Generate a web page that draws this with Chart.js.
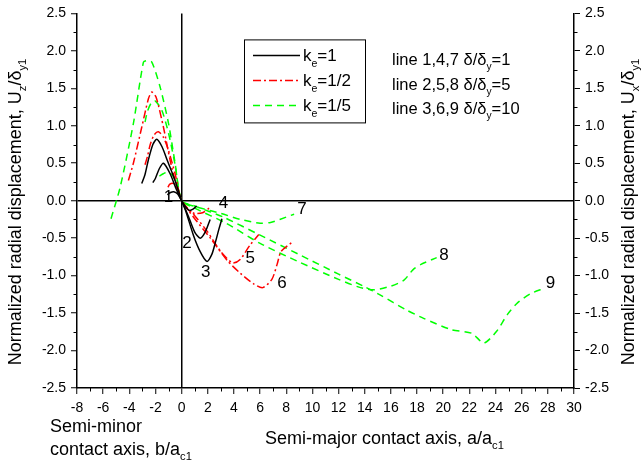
<!DOCTYPE html>
<html><head><meta charset="utf-8">
<script src="https://cdn.jsdelivr.net/npm/chart.js@4/dist/chart.umd.min.js"></script>
<style>html,body{margin:0;padding:0;background:#fff;}canvas{display:block}</style>
</head><body>
<canvas id="c" width="643" height="465"></canvas>
<script>
// ---- data (x = b/ac1 for negative side, a/ac1 for positive side) ----
const line1X = [-1.1,-0.85,-0.6,-0.3,0,0.3,0.6,0.9,1.15];
const line1Y = [0.08,0.11,0.12,0.09,0,-0.08,-0.13,-0.11,-0.07];
const line2X = [-2.2,-2.0,-1.7,-1.39,-0.88,-0.4,0,0.5,1.0,1.42,1.8,2.18];
const line2Y = [0.24,0.3,0.43,0.5,0.36,0.15,0,-0.2,-0.42,-0.5,-0.42,-0.25];
const line3X = [-3.05,-2.8,-2.55,-2.2,-1.9,-1.5,-1.1,-0.5,0,0.3,0.9,1.42,1.93,2.3,2.56,2.85,3.08];
const line3Y = [0.23,0.35,0.54,0.75,0.82,0.72,0.54,0.27,0,-0.13,-0.46,-0.68,-0.81,-0.72,-0.57,-0.38,-0.24];
const line4X = [-1.05,-0.9,-0.65,-0.3,0,0.5,1.0,1.6,2.1];
const line4Y = [0.18,0.22,0.23,0.15,0,-0.12,-0.17,-0.16,-0.1];
const line5X = [-2.8,-2.6,-2.4,-2.1,-1.78,-1.4,-1.0,-0.5,0,1,2,3,3.9,4.5,5.2,5.9];
const line5Y = [0.48,0.6,0.75,0.88,0.92,0.85,0.67,0.36,0,-0.2,-0.42,-0.68,-0.83,-0.78,-0.6,-0.45];
const line6X = [-4.07,-3.69,-3.05,-2.54,-2.28,-1.95,-1.39,-0.88,-0.37,0,1,2.2,3.5,4.5,5.5,6.2,6.9,7.3,7.6,8.4];
const line6Y = [0.27,0.5,0.98,1.36,1.45,1.38,0.98,0.54,0.18,0,-0.24,-0.5,-0.8,-0.97,-1.11,-1.16,-1.05,-0.85,-0.68,-0.56];
const line7X = [-1.7,-1.4,-1.1,-0.7,-0.3,0,0.5,1.5,3,4.5,6,6.8,7.5,8.6];
const line7Y = [0.33,0.36,0.38,0.34,0.18,0,-0.05,-0.1,-0.17,-0.25,-0.3,-0.29,-0.25,-0.18];
const line8X = [-2.8,-2.6,-2.3,-2.0,-1.5,-1.0,-0.5,0,1,3.4,6,9,12,13.5,14.7,16,17,17.7,18.3,19.5];
const line8Y = [1.05,1.2,1.31,1.33,1.2,0.9,0.48,0,-0.1,-0.3,-0.57,-0.82,-1.05,-1.15,-1.19,-1.14,-1.06,-0.92,-0.85,-0.76];
const line9X = [-5.4,-4.7,-3.69,-2.92,-2.67,-2.28,-1.65,-1.0,-0.5,0,1,3.2,6,9,12,14,15.2,17.2,18.5,20.6,22.2,23.1,24.1,24.9,25.7,26.7,27.7];
const line9Y = [-0.24,0.18,1.03,1.85,1.87,1.85,1.52,1.03,0.5,0,-0.07,-0.22,-0.46,-0.72,-0.98,-1.15,-1.26,-1.46,-1.57,-1.72,-1.77,-1.9,-1.74,-1.52,-1.36,-1.24,-1.17];

const lineNames = ['1','2','3','4','5','6','7','8','9'];
const labelX = [-1.0,0.4,1.85,3.2,5.25,7.67,9.2,20.05,28.2];
const labelY = [0.04,-0.57,-0.95,-0.04,-0.77,-1.1,-0.11,-0.73,-1.1];

const xMin = -8, xMax = 30, xStep = 2;
const yMin = -2.5, yMax = 2.5, yStep = 0.5;

const FONT = '"Liberation Sans", Arial, sans-serif';
const BLACK = '#000000', RED = '#ff0000', GREEN = '#00ff00';
const styles = {
  1:{c:BLACK,d:[]}, 2:{c:RED,d:[8,3,2,3]}, 3:{c:GREEN,d:[7,5]}
};
const ke = [1,1,1,2,2,2,3,3,3];
const allX = [line1X,line2X,line3X,line4X,line5X,line6X,line7X,line8X,line9X];
const allY = [line1Y,line2Y,line3Y,line4Y,line5Y,line6Y,line7Y,line8Y,line9Y];

const datasets = allX.map((xs,i)=>({
  label: 'line '+lineNames[i],
  data: xs.map((x,j)=>({x:x,y:allY[i][j]})),
  showLine: true,
  borderColor: styles[ke[i]].c,
  borderDash: styles[ke[i]].d,
  borderWidth: 1.5,
  pointRadius: 0,
  tension: 0.25,
  fill: false
}));

function drawRich(ctx, parts, x, y, size, align){
  const sub = size*0.62;
  let w = 0;
  parts.forEach(p=>{ ctx.font = (p[1]?sub:size)+'px '+FONT; w += ctx.measureText(p[0]).width; });
  let cx = align==='center' ? x - w/2 : x;
  ctx.textAlign = 'left'; ctx.textBaseline = 'alphabetic';
  parts.forEach(p=>{
    ctx.font = (p[1]?sub:size)+'px '+FONT;
    ctx.fillText(p[0], cx, y + (p[1]? size*0.3 : 0));
    cx += ctx.measureText(p[0]).width;
  });
}

const decor = {
  id:'decor',
  afterDraw(chart){
    const ctx = chart.ctx, a = chart.chartArea;
    const sx = chart.scales.x, sy = chart.scales.y;
    ctx.save();
    ctx.strokeStyle = '#000'; ctx.lineWidth = 1;
    ctx.beginPath();
    for(let v=xMin+1; v<xMax; v+=2){ const px=Math.round(sx.getPixelForValue(v))+0.5; ctx.moveTo(px,a.bottom); ctx.lineTo(px,a.bottom+3.5); }
    for(let v=yMin+0.25; v<yMax; v+=0.5){ const py=Math.round(sy.getPixelForValue(v))+0.5; ctx.moveTo(a.left,py); ctx.lineTo(a.left-3.5,py); ctx.moveTo(a.right,py); ctx.lineTo(a.right+3.5,py); }
    ctx.stroke();
    ctx.fillStyle = '#000';
    ctx.font = '17px '+FONT; ctx.textAlign='center'; ctx.textBaseline='middle';
    lineNames.forEach((n,i)=>{ ctx.fillText(n, sx.getPixelForValue(labelX[i]), sy.getPixelForValue(labelY[i])); });
    // legend box
    const bx = a.left+167, by = a.top+26, bw = 121, bh = 83;
    ctx.lineWidth = 1; ctx.strokeStyle='#000';
    ctx.strokeRect(bx+0.5, by+0.5, bw, bh);
    const rows = [[1,'1'],[2,'1/2'],[3,'1/5']];
    rows.forEach((r,i)=>{
      const ly = by + 16 + i*25;
      ctx.beginPath(); ctx.strokeStyle = styles[r[0]].c; ctx.lineWidth=1.5; ctx.setLineDash(styles[r[0]].d);
      ctx.moveTo(bx+9, ly); ctx.lineTo(bx+56, ly); ctx.stroke(); ctx.setLineDash([]);
      ctx.fillStyle='#000';
      drawRich(ctx, [['k'],['e',1],['='+r[1]]], bx+59, ly+6, 17, 'left');
    });
    const notes = [['1,4,7','1'],['2,5,8','5'],['3,6,9','10']];
    notes.forEach((n,i)=>{
      drawRich(ctx, [['line '+n[0]+' \u03b4/\u03b4'],['y',1],['='+n[1]]], a.left+315, by+ 26 + i*24.5, 16.5, 'left');
    });
    // axis titles
    ctx.save(); ctx.translate(21, 212); ctx.rotate(-Math.PI/2);
    drawRich(ctx, [['Normalized radial displacement, U'],['z',1],['/\u03b4'],['y1',1]], 0, 0, 18, 'center');
    ctx.restore();
    ctx.save(); ctx.translate(634, 212); ctx.rotate(-Math.PI/2);
    drawRich(ctx, [['Normalized radial displacement, U'],['x',1],['/\u03b4'],['y1',1]], 0, 0, 18, 'center');
    ctx.restore();
    drawRich(ctx, [['Semi-minor']], 50, 432, 18, 'left');
    drawRich(ctx, [['contact axis, b/a'],['c1',1]], 50, 455, 18, 'left');
    drawRich(ctx, [['Semi-major contact axis, a/a'],['c1',1]], 265, 444, 18, 'left');
    ctx.restore();
  }
};

const tickFont = {family: FONT, size: 14};
const zeroColor = ctx => (ctx.tick && Math.abs(ctx.tick.value) < 1e-9) ? '#000' : 'rgba(0,0,0,0)';

new Chart(document.getElementById('c'), {
  type: 'scatter',
  data: { datasets },
  options: {
    responsive: false, animation: false, devicePixelRatio: 1,
    layout: { padding: { top: 13, left: 0, right: 0, bottom: 0 } },
    plugins: { legend: {display:false}, tooltip:{enabled:false} },
    scales: {
      x: {
        type:'linear', min:xMin, max:xMax,
        ticks:{ stepSize:xStep, color:'#000', font:tickFont, padding:6, maxRotation:0, autoSkip:false },
        grid:{ drawOnChartArea:true, color: zeroColor, lineWidth:1.5, tickColor:'#000', tickWidth:1, tickLength:6 },
        border:{ display:true, color:'#000', width:1.5 },
        afterFit(s){ s.height = 77; }
      },
      y: {
        type:'linear', position:'left', min:yMin, max:yMax,
        ticks:{ stepSize:yStep, color:'#000', font:tickFont, padding:5, callback:v=>Number(v).toFixed(1) },
        grid:{ drawOnChartArea:true, color: zeroColor, lineWidth:1.5, tickColor:'#000', tickWidth:1, tickLength:6 },
        border:{ display:true, color:'#000', width:1.5 },
        afterFit(s){ s.width = 77; }
      },
      y2: {
        type:'linear', position:'right', min:yMin, max:yMax,
        ticks:{ stepSize:yStep, color:'#000', font:tickFont, padding:5, callback:v=>Number(v).toFixed(1) },
        grid:{ drawOnChartArea:false, tickColor:'#000', tickWidth:1, tickLength:6 },
        border:{ display:true, color:'#000', width:1.5 },
        afterFit(s){ s.width = 69; }
      }
    }
  },
  plugins: [decor]
});
</script>
</body></html>
